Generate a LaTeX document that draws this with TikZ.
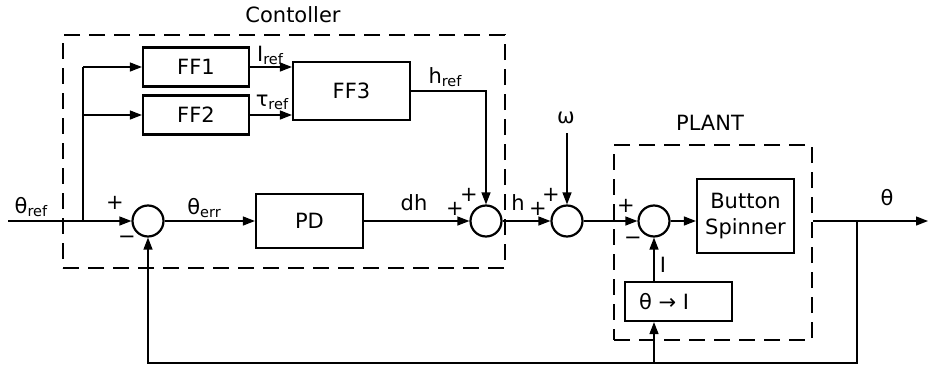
\documentclass[tikz,border=0pt]{standalone}
\usepackage{fontspec}
\setmainfont{DejaVu Sans}
\usetikzlibrary{arrows.meta,positioning}
\newcommand{\subtxt}[1]{\raisebox{-3pt}{\fontsize{14.5}{16}\selectfont #1}}

\begin{document}
\begin{tikzpicture}[x=1pt,y=-1pt,>={Triangle[length=12pt,width=9pt]},
  font=\fontsize{21}{26}\selectfont,
  blk/.style={draw,line width=2.2pt,minimum width=107pt,minimum height=39pt,inner sep=0pt,align=center},
  sumnode/.style={draw,circle,line width=2.2pt,minimum size=31pt,inner sep=0pt},
  dashbox/.style={draw,line width=2.2pt,dash pattern=on 16pt off 9pt,inner sep=0pt},
  wire/.style={line width=1.3pt},
  lbl/.style={inner sep=0pt}]
\useasboundingbox (0,0) rectangle (930,367);
% frames
\node (ctrl) [dashbox,minimum width=442pt,minimum height=233pt] at (284,151.5) {};
\node (plant) [dashbox,minimum width=198pt,minimum height=195pt] at (713,242.5) {};
\node (ctrltxt) [lbl] at (293,15) {Contoller};
\node (planttxt) [lbl] at (710,123) {PLANT};
% blocks
\node (FF1) [blk,minimum width=106pt] at (196,67) {FF1};
\node (FF2) [blk,minimum width=106pt] at (196,115) {FF2};
\node (FF3) [blk,minimum width=117pt,minimum height=58pt] at (351.5,91) {FF3};
\node (PD) [blk,minimum height=54pt] at (309.5,221) {PD};
\node (spinner) [blk,minimum width=97pt,minimum height=74pt] at (745.5,216) {Button\\Spinner};
\node (conv) [blk] at (678.5,301.5) {\makebox[79pt][l]{θ → I}};
% sums
\node (sum1) [sumnode] at (148,221) {};
\node (sum2) [sumnode] at (486,221) {};
\node (sum3) [sumnode] at (567,221) {};
\node (sum4) [sumnode] at (654,221) {};
% signs
\node (s1p) [lbl] at (115,203) {+};
\node (s1m) [lbl] at (127,240) {−};
\node (s2p) [lbl] at (455,209) {+};
\node (s2q) [lbl] at (469,195) {+};
\node (s3p) [lbl] at (538,209) {+};
\node (s3q) [lbl] at (551,195) {+};
\node (s4p) [lbl] at (626,206) {+};
\node (s4m) [lbl] at (633,241) {−};
% signal names
\node (threftxt) [lbl] at (31,207) {θ\subtxt{ref}};
\node (ireftxt) [lbl] at (270,55) {I\subtxt{ref}};
\node (treftxt) [lbl] at (272,102) {τ\subtxt{ref}};
\node (hreftxt) [lbl] at (445,77) {h\subtxt{ref}};
\node (errtxt) [lbl] at (204,208) {θ\subtxt{err}};
\node (dhtxt) [lbl] at (414,203) {dh};
\node (htxt) [lbl] at (518,203) {h};
\node (wtxt) [lbl] at (566,118) {ω};
\node (thtxt) [lbl] at (887,198) {θ};
\node (itxt) [lbl] at (663,265) {I};
% connectors
\coordinate (in) at (8,221);
\coordinate (br) at (83,221);
\coordinate (wsrc) at (567,133);
\coordinate (tap) at (857,221);
\coordinate (fb) at (857,363);
\coordinate (out) at (928,221);
\draw[wire,->] (in) -- (sum1.west);
\draw[wire] (br) -- (br |- FF1);
\draw[wire,->] (br |- FF1) -- (FF1.west);
\draw[wire,->] (br |- FF2) -- (FF2.west);
\draw[wire,->] (FF1.east) -- (FF1.east -| FF3.west);
\draw[wire,->] (FF2.east) -- (FF2.east -| FF3.west);
\draw[wire,->] (FF3.east) -| (sum2.north);
\draw[wire,->] (sum1.east) -- (PD.west);
\draw[wire,->] (PD.east) -- (sum2.west);
\draw[wire,->] (sum2.east) -- (sum3.west);
\draw[wire,->] (wsrc) -- (sum3.north);
\draw[wire,->] (sum3.east) -- (sum4.west);
\draw[wire,->] (sum4.east) -- (sum4.east -| spinner.west);
\draw[wire,->] (plant.east |- sum4) -- (out);
\draw[wire,->] (tap) -- (fb) -| (sum1.south);
\draw[wire,->] (sum4 |- fb) -- (sum4 |- conv.south);
\draw[wire,->] (sum4 |- conv.north) -- (sum4.south);
\end{tikzpicture}
\end{document}
